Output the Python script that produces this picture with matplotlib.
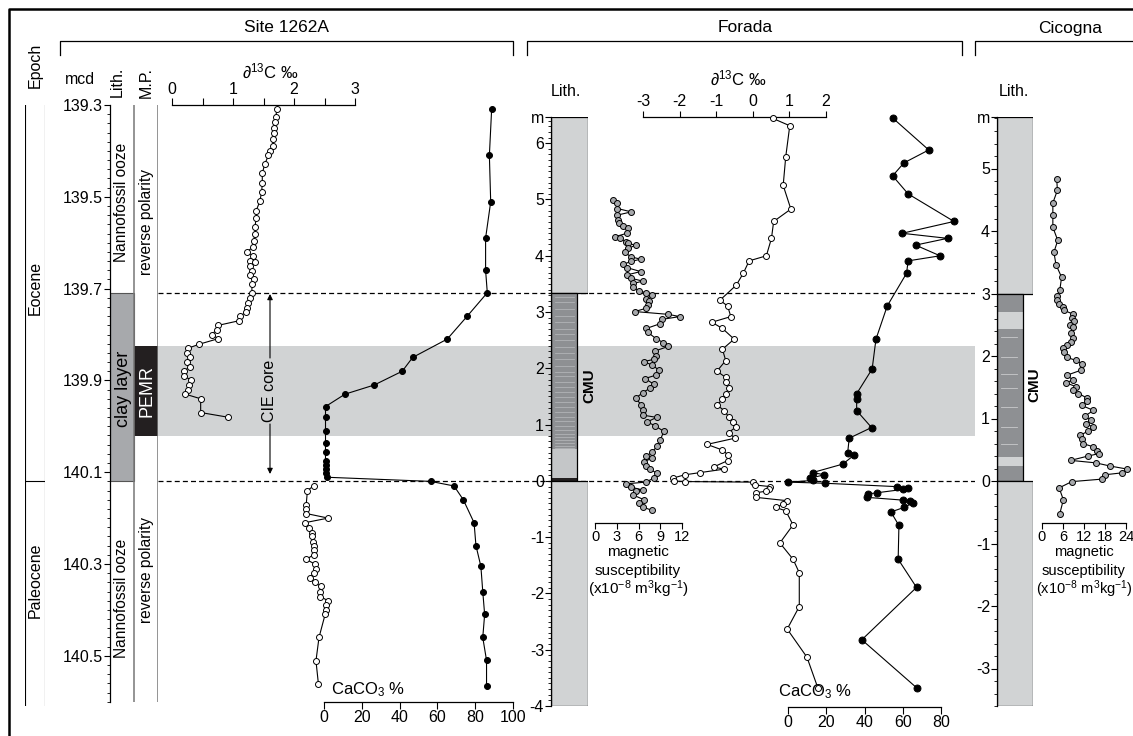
import matplotlib.pyplot as plt
from matplotlib.patches import Rectangle
from matplotlib.ticker import MultipleLocator

plt.rcParams['font.family'] = ['Liberation Sans', 'DejaVu Sans']
plt.rcParams['mathtext.fontset'] = 'custom'
plt.rcParams['mathtext.rm'] = 'Liberation Sans'
plt.rcParams['mathtext.it'] = 'Liberation Sans:italic'
plt.rcParams['mathtext.bf'] = 'Liberation Sans:bold'

# ---- Site 1262A (depth in mcd) ---------------------------------------------
s1262_c13_up_depth = [139.309, 139.327, 139.338, 139.351, 139.362, 139.375, 139.389, 139.40, 139.41,
                      139.429, 139.449, 139.471, 139.489, 139.51, 139.53, 139.547, 139.565, 139.58,
                      139.596, 139.61, 139.62, 139.629, 139.64, 139.641, 139.651, 139.661, 139.67,
                      139.68, 139.69, 139.71, 139.721, 139.732, 139.743, 139.752, 139.76, 139.77,
                      139.78, 139.79, 139.80, 139.809, 139.821, 139.83, 139.841, 139.85, 139.859,
                      139.87, 139.879, 139.89, 139.899, 139.91, 139.921, 139.93, 139.94, 139.97, 139.98]
s1262_c13_up = [1.72, 1.70, 1.69, 1.68, 1.67, 1.65, 1.65, 1.61, 1.58, 1.52, 1.48, 1.48, 1.47, 1.44,
                1.38, 1.38, 1.36, 1.36, 1.34, 1.32, 1.23, 1.33, 1.28, 1.36, 1.28, 1.31, 1.28, 1.34,
                1.31, 1.31, 1.28, 1.25, 1.23, 1.21, 1.11, 1.10, 0.76, 0.73, 0.65, 0.76, 0.45, 0.26,
                0.24, 0.30, 0.24, 0.30, 0.20, 0.19, 0.31, 0.28, 0.26, 0.22, 0.47, 0.47, 0.91]
s1262_c13_lo_depth = [140.13, 140.14, 140.171, 140.18, 140.19, 140.20, 140.21, 140.222, 140.232,
                      140.24, 140.251, 140.26, 140.27, 140.28, 140.29, 140.30, 140.31, 140.32,
                      140.33, 140.34, 140.349, 140.361, 140.371, 140.38, 140.39, 140.40, 140.41,
                      140.46, 140.511, 140.561]
s1262_c13_lo = [2.32, 2.22, 2.20, 2.20, 2.20, 2.56, 2.18, 2.25, 2.29, 2.29, 2.31, 2.32, 2.32, 2.32,
                2.20, 2.34, 2.36, 2.32, 2.26, 2.34, 2.44, 2.43, 2.43, 2.56, 2.52, 2.52, 2.51, 2.41,
                2.36, 2.40]
s1262_caco3_depth = [139.309, 139.41, 139.511, 139.59, 139.66, 139.709, 139.76, 139.81, 139.85,
                     139.88, 139.91, 139.93, 139.957, 139.979, 140.01, 140.037, 140.057, 140.075,
                     140.084, 140.094, 140.102, 140.111, 140.12, 140.13, 140.16, 140.21, 140.26,
                     140.305, 140.36, 140.41, 140.46, 140.51, 140.565]
s1262_caco3 = [88.7, 87.5, 88.2, 85.5, 85.5, 86.4, 75.8, 65.2, 46.9, 41.4, 26.6, 11.1, 0.8, 0.8,
               0.8, 0.8, 0.8, 0.8, 0.8, 0.8, 0.8, 1.5, 56.4, 68.8, 73.7, 79.4, 80.4, 83.0, 84.0,
               85.0, 84.0, 86.0, 86.0]

# ---- Forada (depth in m) ----------------------------------------------------
forada_c13_depth = [6.44, 6.31, 5.76, 5.25, 4.83, 4.61, 4.31, 4.00, 3.91, 3.69, 3.48, 3.21, 3.11,
                    2.92, 2.82, 2.71, 2.52, 2.34, 2.14, 1.95, 1.84, 1.75, 1.65, 1.55, 1.45, 1.35,
                    1.25, 1.14, 1.05, 0.96, 0.86, 0.76, 0.65, 0.55, 0.46, 0.36, 0.25, 0.21, 0.15,
                    0.11, 0.05, 0.00, -0.01, -0.02, -0.07, -0.10, -0.15, -0.18, -0.21, -0.29, -0.35,
                    -0.41, -0.47, -0.53, -0.78, -1.10, -1.39, -1.63, -2.23, -2.63, -3.13, -3.68]
forada_c13 = [0.55, 1.01, 0.90, 0.83, 1.04, 0.57, 0.51, 0.37, -0.10, -0.26, -0.45, -0.90, -0.69,
              -0.60, -1.12, -0.83, -0.51, -0.83, -0.74, -0.98, -0.74, -0.72, -0.65, -0.74, -0.83,
              -0.98, -0.78, -0.66, -0.54, -0.46, -0.66, -0.49, -1.25, -0.83, -0.67, -0.69, -1.07,
              -0.79, -1.43, -1.86, -2.19, -2.15, -1.86, 0.01, 0.05, 0.48, 0.45, 0.37, 0.08, 0.08,
              0.94, 0.83, 0.63, 0.90, 1.10, 0.74, 1.10, 1.27, 1.27, 0.94, 1.48, 1.78]
forada_caco3_depth = [6.44, 5.88, 5.65, 5.42, 5.10, 4.61, 4.40, 4.31, 4.19, 4.00, 3.91, 3.69, 3.11,
                      2.52, 1.99, 1.55, 1.45, 1.25, 0.95, 0.76, 0.50, 0.46, 0.30, 0.15, 0.11, 0.05,
                      0.01, -0.02, -0.04, -0.10, -0.13, -0.15, -0.21, -0.23, -0.29, -0.34, -0.36,
                      -0.39, -0.47, -0.55, -0.79, -1.39, -1.89, -2.82, -3.68]
forada_caco3 = [55.0, 73.6, 60.6, 54.7, 62.8, 86.8, 59.7, 83.4, 66.7, 79.5, 62.8, 62.0, 51.9, 46.0,
                44.0, 35.9, 35.9, 35.9, 43.7, 32.0, 31.2, 34.6, 28.6, 12.9, 19.0, 11.5, 13.2, 0.0,
                19.3, 56.8, 62.8, 59.9, 46.3, 41.9, 41.1, 60.2, 63.7, 65.4, 60.6, 53.8, 58.0, 57.6,
                67.2, 38.6, 67.5]
forada_ms_depth = [4.99, 4.93, 4.84, 4.78, 4.72, 4.64, 4.58, 4.53, 4.49, 4.40, 4.34, 4.31, 4.25,
                   4.22, 4.19, 4.13, 4.06, 3.98, 3.94, 3.90, 3.85, 3.79, 3.72, 3.66, 3.60, 3.55,
                   3.51, 3.45, 3.38, 3.34, 3.30, 3.24, 3.20, 3.13, 3.07, 3.01, 2.96, 2.92, 2.87,
                   2.79, 2.71, 2.64, 2.53, 2.46, 2.39, 2.31, 2.22, 2.16, 2.12, 2.06, 1.97, 1.88,
                   1.82, 1.72, 1.65, 1.57, 1.47, 1.35, 1.26, 1.17, 1.13, 1.05, 0.98, 0.88, 0.73,
                   0.62, 0.52, 0.44, 0.40, 0.34, 0.27, 0.21, 0.14, 0.05, -0.02, -0.05, -0.11,
                   -0.16, -0.17, -0.25, -0.33, -0.39, -0.46, -0.52]
forada_ms = [2.5, 3.0, 3.1, 5.0, 3.0, 3.2, 3.3, 3.8, 4.6, 4.4, 2.8, 3.4, 4.3, 4.5, 5.6, 4.6, 4.1,
             5.0, 6.3, 5.0, 3.9, 4.4, 6.3, 4.4, 5.0, 6.6, 5.3, 5.2, 6.0, 7.1, 7.9, 7.1, 7.5, 7.3,
             7.1, 5.5, 10.1, 11.7, 9.2, 8.9, 7.1, 7.3, 8.4, 9.4, 10.1, 8.3, 8.4, 8.1, 6.7, 7.9,
             8.8, 8.4, 6.9, 8.1, 7.6, 6.6, 5.6, 6.4, 6.6, 6.6, 8.5, 7.2, 8.3, 9.5, 9.0, 8.6, 7.9,
             7.1, 7.8, 6.7, 7.0, 7.6, 8.5, 8.1, 7.0, 4.3, 5.0, 6.6, 5.7, 5.3, 6.7, 6.1, 6.6, 7.8]
forada_cmu_stripes = [3.27, 3.18, 3.05, 2.93, 2.82, 2.70, 2.61, 2.50, 2.38, 2.27, 2.16, 2.05, 1.94,
                      1.86, 1.76, 1.66, 1.58, 1.49, 1.40, 1.31, 1.22, 1.14, 1.06, 0.98, 0.91, 0.84,
                      0.78, 0.72, 0.67, 0.62, 0.58]

# ---- Cicogna (depth in m) ---------------------------------------------------
cicogna_ms_depth = [4.84, 4.65, 4.45, 4.26, 4.06, 3.85, 3.66, 3.46, 3.26, 3.06, 2.96, 2.89, 2.84,
                    2.79, 2.73, 2.67, 2.61, 2.56, 2.50, 2.46, 2.37, 2.29, 2.22, 2.18, 2.13, 2.06,
                    1.98, 1.93, 1.88, 1.77, 1.69, 1.62, 1.57, 1.51, 1.45, 1.40, 1.33, 1.28, 1.21,
                    1.13, 1.04, 0.97, 0.91, 0.87, 0.80, 0.73, 0.67, 0.60, 0.55, 0.48, 0.44, 0.40,
                    0.33, 0.29, 0.24, 0.19, 0.13, 0.10, 0.03, -0.01, -0.11, -0.30, -0.52]
cicogna_ms = [4.2, 4.4, 3.1, 3.1, 3.1, 4.5, 3.4, 4.0, 5.6, 5.1, 4.4, 4.2, 4.9, 5.9, 6.3, 8.9, 8.5,
              9.1, 8.0, 8.8, 8.2, 8.8, 8.2, 7.0, 5.9, 6.3, 7.0, 9.7, 11.3, 11.0, 7.0, 8.9, 6.9, 9.7,
              8.8, 10.4, 12.8, 12.8, 11.3, 14.7, 12.3, 13.9, 12.6, 14.5, 13.2, 10.9, 11.3, 11.6,
              14.5, 15.6, 16.4, 13.2, 8.2, 15.4, 19.4, 24.4, 22.8, 18.0, 17.1, 8.5, 4.9, 6.1, 5.1]
cicogna_cmu_stripes = [2.30, 1.98, 1.71, 1.49, 1.18, 0.87, 0.59]

# ---- figure / helpers -------------------------------------------------------
W, H = 1133, 736
fig = plt.figure(figsize=(W / 100, H / 100), dpi=100)

LIGHT = '#d1d3d4'
DARK = '#8e9093'
CLAY = '#a7a9ac'
MS_GREY = '#a7a9ac'


def px_axes(x0, x1, y0, y1):
    ax = fig.add_axes([x0 / W, 1 - y1 / H, (x1 - x0) / W, (y1 - y0) / H])
    ax.patch.set_visible(False)
    for s in ax.spines.values():
        s.set_visible(False)
        s.set_linewidth(0.9)
    ax.set_xticks([])
    ax.set_yticks([])
    return ax


def mcd(y):
    return 139.3 + (y - 105) / 459.0


def forada_m(y):
    return (481 - y) / 56.3


def cicogna_m(y):
    return (481 - y) / 62.5


def depth_axis(ax, ticks, labels, minor):
    ax.spines['left'].set_visible(True)
    ax.set_yticks(ticks, labels=labels)
    ax.yaxis.set_minor_locator(MultipleLocator(minor))
    ax.tick_params(axis='y', which='major', direction='out', length=4, width=0.8,
                   labelsize=11.5, pad=1)
    ax.tick_params(axis='y', which='minor', direction='out', length=2.5, width=0.6)


def value_axis(ax, side, ticks, size=11.5, length=4.5, pad=1.5):
    ax.spines[side].set_visible(True)
    ax.set_xticks(ticks, labels=[f'{t:g}' for t in ticks])
    if side == 'top':
        ax.xaxis.tick_top()
    ax.tick_params(axis='x', which='both', direction='out', length=length, width=0.8,
                   labelsize=size, pad=pad)


def curve(ax, vals, depths, face, ms=4.2):
    ax.plot(vals, depths, '-o', color='k', lw=0.8, mfc=face, mec='k', mew=0.7, ms=ms,
            clip_on=False, zorder=3)


# ---- frame, brackets --------------------------------------------------------
ax0 = px_axes(0, W, 0, H)
ax0.set_xlim(0, W)
ax0.set_ylim(H, 0)
ax0.plot([9, 9, W + 5], [H + 5, 9, 9], color='k', lw=1.8, clip_on=False)
for xa, xb in [(60, 513), (527, 962), (975, W + 20)]:
    ax0.plot([xa, xa, xb, xb], [55, 41, 41, 55], color='k', lw=0.9, clip_on=False)

# ---- Site 1262A columns ----------------------------------------------------
ax_ep = px_axes(25, 45, 105, 706)
ax_ep.set_xlim(0, 1)
ax_ep.set_ylim(mcd(706), mcd(105))
ax_ep.axvline(0, color='k', lw=0.8)
ax_ep.axvline(1, color='k', lw=0.8)
ax_ep.axhline(140.12, color='k', lw=0.8)

ax_col = px_axes(110, 158, 105, 702)
ax_col.set_xlim(0, 48)
ax_col.set_ylim(mcd(702), mcd(105))
mcd_ticks = [139.3, 139.5, 139.7, 139.9, 140.1, 140.3, 140.5]
depth_axis(ax_col, mcd_ticks, [f'{t:.1f}' for t in mcd_ticks], 0.02)
ax_col.add_patch(Rectangle((0, 139.71), 24, 0.41, fc=CLAY, ec='#555555', lw=0.8))
ax_col.add_patch(Rectangle((24, 139.825), 24, 0.196, fc='#231f20', lw=0))
ax_col.axvline(24, color='#777777', lw=1.1)
ax_col.axvline(48, color='#777777', lw=1.1)

# ---- shaded CIE core band and boundaries ------------------------------------
ax_band = px_axes(158, 975, 105, 702)
ax_band.set_xlim(0, 1)
ax_band.set_ylim(mcd(702), mcd(105))
ax_band.axhspan(139.825, 140.021, color=LIGHT, lw=0, zorder=0)
for d in (139.71, 140.12):
    ax_band.axhline(d, color='k', lw=0.9, ls=(0, (4, 2.5)))

# ---- Site 1262A curves -----------------------------------------------------
ax_c13a = px_axes(172, 355, 105, 702)
ax_c13a.set_xlim(0, 3)
ax_c13a.set_ylim(mcd(702), mcd(105))
value_axis(ax_c13a, 'top', [0, 1, 2, 3], length=5, pad=1)
ax_c13a.xaxis.set_minor_locator(MultipleLocator(0.5))
curve(ax_c13a, s1262_c13_up, s1262_c13_up_depth, 'white', ms=4.3)
curve(ax_c13a, s1262_c13_lo, s1262_c13_lo_depth, 'white', ms=4.3)

ax_ca_a = px_axes(324, 513, 105, 702)
ax_ca_a.set_xlim(0, 100)
ax_ca_a.set_ylim(mcd(702), mcd(105))
value_axis(ax_ca_a, 'bottom', [0, 20, 40, 60, 80, 100], length=5, pad=1)
curve(ax_ca_a, s1262_caco3, s1262_caco3_depth, 'k', ms=4.3)

# ---- Forada ----------------------------------------------------------------
F_TOP, F_BOT = 117, 706
ax_fc = px_axes(551, 588, F_TOP, F_BOT)
ax_fc.set_xlim(0, 1)
ax_fc.set_ylim(forada_m(F_BOT), forada_m(F_TOP))
f_ticks = list(range(-4, 7)) + [forada_m(F_TOP)]
depth_axis(ax_fc, f_ticks, [str(t) for t in range(-4, 7)] + ['m'], 0.1)
ax_fc.add_patch(Rectangle((0, 3.34), 1, forada_m(F_TOP) - 3.34, fc=LIGHT, ec='k', lw=0.9))
ax_fc.add_patch(Rectangle((0, 0), 0.70, 3.34, fc=DARK, ec='none'))
ax_fc.add_patch(Rectangle((0, 0.04), 0.70, 0.52, fc='#c4c6c8', ec='none'))
for d in forada_cmu_stripes:
    ax_fc.plot([0.1, 0.62], [d, d], color='#b9bbbd', lw=0.5)
ax_fc.add_patch(Rectangle((0, 0), 0.70, 0.045, fc='#231f20', ec='none'))
ax_fc.add_patch(Rectangle((0, 0), 0.70, 3.34, fc='none', ec='k', lw=0.9))
ax_fc.add_patch(Rectangle((0, -4), 1, 4, fc=LIGHT, ec='k', lw=0.9))

ax_fms = px_axes(595, 682, F_TOP, 523)
ax_fms.set_xlim(0, 12)
ax_fms.set_ylim(forada_m(523), forada_m(F_TOP))
value_axis(ax_fms, 'bottom', [0, 3, 6, 9, 12], size=10.5, length=4, pad=1)
curve(ax_fms, forada_ms, forada_ms_depth, MS_GREY, ms=4.3)

ax_fc13 = px_axes(643, 826, F_TOP, F_BOT)
ax_fc13.set_xlim(-3, 2)
ax_fc13.set_ylim(forada_m(F_BOT), forada_m(F_TOP))
value_axis(ax_fc13, 'top', [-3, -2, -1, 0, 1, 2], length=4, pad=1.5)
curve(ax_fc13, forada_c13, forada_c13_depth, 'white', ms=4.3)

ax_fca = px_axes(788, 941, F_TOP, 707)
ax_fca.set_xlim(0, 80)
ax_fca.set_ylim(forada_m(707), forada_m(F_TOP))
value_axis(ax_fca, 'bottom', [0, 20, 40, 60, 80], length=5, pad=1)
curve(ax_fca, forada_caco3, forada_caco3_depth, 'k', ms=5)

# ---- Cicogna ---------------------------------------------------------------
C_TOP, C_BOT = 117, 706
ax_cc = px_axes(997, 1033, C_TOP, C_BOT)
ax_cc.set_xlim(0, 1)
ax_cc.set_ylim(cicogna_m(C_BOT), cicogna_m(C_TOP))
c_ticks = list(range(-3, 6)) + [cicogna_m(C_TOP)]
depth_axis(ax_cc, c_ticks, [str(t) for t in range(-3, 6)] + ['m'], 0.2)
ax_cc.add_patch(Rectangle((0, 3.0), 1, cicogna_m(C_TOP) - 3.0, fc=LIGHT, ec='k', lw=0.9))
ax_cc.add_patch(Rectangle((0, 0), 0.72, 3.0, fc=DARK, ec='none'))
ax_cc.add_patch(Rectangle((0, 0.24), 0.72, 0.14, fc=LIGHT, ec='none'))
ax_cc.add_patch(Rectangle((0, 2.44), 0.72, 0.26, fc=LIGHT, ec='none'))
for d in cicogna_cmu_stripes:
    ax_cc.plot([0.1, 0.55], [d, d], color='#c9cacc', lw=0.6)
ax_cc.add_patch(Rectangle((0, 0), 0.72, 3.0, fc='none', ec='k', lw=0.9))
ax_cc.add_patch(Rectangle((0, cicogna_m(C_BOT)), 1, -cicogna_m(C_BOT), fc=LIGHT, ec='k', lw=0.9))

ax_cms = px_axes(1042, 1126, C_TOP, 523)
ax_cms.set_xlim(0, 24)
ax_cms.set_ylim(cicogna_m(523), cicogna_m(C_TOP))
value_axis(ax_cms, 'bottom', [0, 6, 12, 18, 24], size=10.5, length=4, pad=1)
curve(ax_cms, cicogna_ms, cicogna_ms_depth, MS_GREY, ms=4.3)

# ---- text layer (on top of everything) ---------------------------------------
at = px_axes(0, W, 0, H)
at.set_xlim(0, W)
at.set_ylim(H, 0)
at.text(287, 28, 'Site 1262A', ha='center', va='center', fontsize=12.5)
at.text(745, 28, 'Forada', ha='center', va='center', fontsize=12.5)
at.text(1070, 28, 'Cicogna', ha='center', va='center', fontsize=12.5)

at.text(35, 65, 'Epoch', rotation=90, ha='center', va='center', fontsize=11.5)
at.text(80, 79, 'mcd', ha='center', va='center', fontsize=11.5)
at.text(117, 82, 'Lith.', rotation=90, ha='center', va='center', fontsize=11.5)
at.text(146, 82, 'M.P.', rotation=90, ha='center', va='center', fontsize=11.5)
at.text(35, 288, 'Eocene', rotation=90, ha='center', va='center', fontsize=11.5)
at.text(35, 580, 'Paleocene', rotation=90, ha='center', va='center', fontsize=11.5)
at.text(122, 202, 'Nannofossil ooze', rotation=90, ha='center', va='center', fontsize=11.2)
at.text(122, 598, 'Nannofossil ooze', rotation=90, ha='center', va='center', fontsize=11.2)
at.text(147, 222, 'reverse polarity', rotation=90, ha='center', va='center', fontsize=11.2)
at.text(147, 570, 'reverse polarity', rotation=90, ha='center', va='center', fontsize=11.2)
at.text(123, 389, 'clay layer', rotation=90, ha='center', va='center', fontsize=13)
at.text(147, 391, 'PEMR', rotation=90, ha='center', va='center', fontsize=13, color='white')

at.text(270, 391, 'CIE core', rotation=90, ha='center', va='center', fontsize=11.5)
at.annotate('', xy=(270, 294), xytext=(270, 358),
            arrowprops=dict(arrowstyle='-|>', color='k', lw=0.8, mutation_scale=8,
                            shrinkA=0, shrinkB=0))
at.annotate('', xy=(270, 474), xytext=(270, 424),
            arrowprops=dict(arrowstyle='-|>', color='k', lw=0.8, mutation_scale=8,
                            shrinkA=0, shrinkB=0))

at.text(270, 72, '∂$^{13}$C ‰', ha='center', va='center', fontsize=12)
at.text(738, 79, '∂$^{13}$C ‰', ha='center', va='center', fontsize=12)
at.text(368, 690, 'CaCO$_3$ %', ha='center', va='center', fontsize=12)
at.text(815, 692, 'CaCO$_3$ %', ha='center', va='center', fontsize=12)
at.text(566, 92, 'Lith.', ha='center', va='center', fontsize=11.5)
at.text(1014, 91, 'Lith.', ha='center', va='center', fontsize=11.5)
at.text(589, 386, 'CMU', rotation=90, ha='center', va='center', fontsize=11,
        fontweight='bold')
at.text(1034, 385, 'CMU', rotation=90, ha='center', va='center', fontsize=11,
        fontweight='bold')
for xc, fs in ((638, 11), (1084, 10.5)):
    at.text(xc, 552, 'magnetic', ha='center', va='center', fontsize=fs)
    at.text(xc, 571, 'susceptibility', ha='center', va='center', fontsize=fs)
    at.text(xc, 589, '(x10$^{-8}$ m$^3$kg$^{-1}$)', ha='center', va='center', fontsize=fs)

fig.savefig('out.png', dpi=100)
